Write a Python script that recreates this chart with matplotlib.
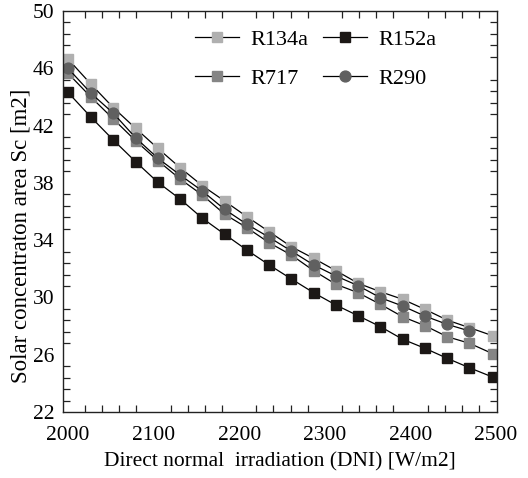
import matplotlib.pyplot as plt
from matplotlib.ticker import MultipleLocator

plt.rcParams['font.family'] = ['Liberation Serif', 'DejaVu Serif']

# DNI values [W/m2]
dni = [2000, 2027, 2053, 2079, 2105, 2131, 2157, 2183, 2209, 2235,
       2261, 2287, 2313, 2339, 2365, 2391, 2417, 2443, 2469, 2497]

# solar concentration area [m2]
r134a = [46.65, 44.88, 43.25, 41.81, 40.41, 39.06, 37.80, 36.73, 35.64, 34.59,
         33.54, 32.73, 31.87, 30.99, 30.40, 29.87, 29.17, 28.42, 27.89, 27.31]
r152a = [44.32, 42.58, 40.99, 39.48, 38.04, 36.87, 35.53, 34.41, 33.31, 32.27,
         31.29, 30.33, 29.47, 28.72, 27.96, 27.08, 26.45, 25.75, 25.09, 24.42]
r717 = [45.65, 43.98, 42.46, 40.94, 39.55, 38.27, 37.15, 35.81, 34.87, 33.82,
        32.96, 31.87, 30.92, 30.33, 29.52, 28.65, 28.03, 27.26, 26.80, 26.05]
r290 = [46.00, 44.25, 42.86, 41.15, 39.72, 38.55, 37.43, 36.15, 35.11, 34.20,
        33.24, 32.27, 31.50, 30.82, 29.98, 29.40, 28.70, 28.12, 27.66]

fig = plt.figure(figsize=(5.28, 4.78), dpi=100)
ax = fig.add_axes([0.119, 0.138, 0.822, 0.839])

ax.plot(dni, r134a, color='black', lw=0.9, marker='s', ms=7.8,
        mfc='#b0b0b0', mec='#b0b0b0', label='R134a')
ax.plot(dni, r717, color='black', lw=0.9, marker='s', ms=7.8,
        mfc='#858585', mec='#858585', label='R717')
ax.plot(dni, r152a, color='black', lw=0.9, marker='s', ms=7.8,
        mfc='#1c1816', mec='#1c1816', label='R152a')
ax.plot(dni[:len(r290)], r290, color='black', lw=0.9, marker='o', ms=7.8,
        mfc='#606060', mec='#606060', label='R290')

ax.set_xlim(1994, 2501)
ax.set_ylim(22, 50)
ax.xaxis.set_major_locator(MultipleLocator(100))
ax.xaxis.set_minor_locator(MultipleLocator(20))
ax.yaxis.set_major_locator(MultipleLocator(4, offset=2))
ax.yaxis.set_minor_locator(MultipleLocator(0.8, offset=0.4))
ax.tick_params(which='both', direction='in', top=True, right=True,
               labelsize=15.5, color='#222222')
ax.tick_params(which='major', length=0)
ax.tick_params(axis='x', which='major', pad=10)
ax.tick_params(axis='y', which='major', pad=6)
ax.tick_params(which='minor', length=5, width=0.9)
for s in ax.spines.values():
    s.set_linewidth(1.0)
    s.set_color('#222222')

ax.set_xlabel('Direct normal  irradiation (DNI) [W/m2]', fontsize=15.5, labelpad=5)
ax.set_ylabel('Solar concentraton area Sc [m2]', fontsize=16.5)
ax.yaxis.set_label_coords(-0.072, 0.44)

ax.legend(ncol=2, loc='upper left', bbox_to_anchor=(0.304, 0.955), frameon=False,
          fontsize=16, handlelength=2.0, columnspacing=0.65, labelspacing=0.85,
          handletextpad=0.5, borderpad=0, borderaxespad=0)

fig.savefig('out.png', dpi=100)
